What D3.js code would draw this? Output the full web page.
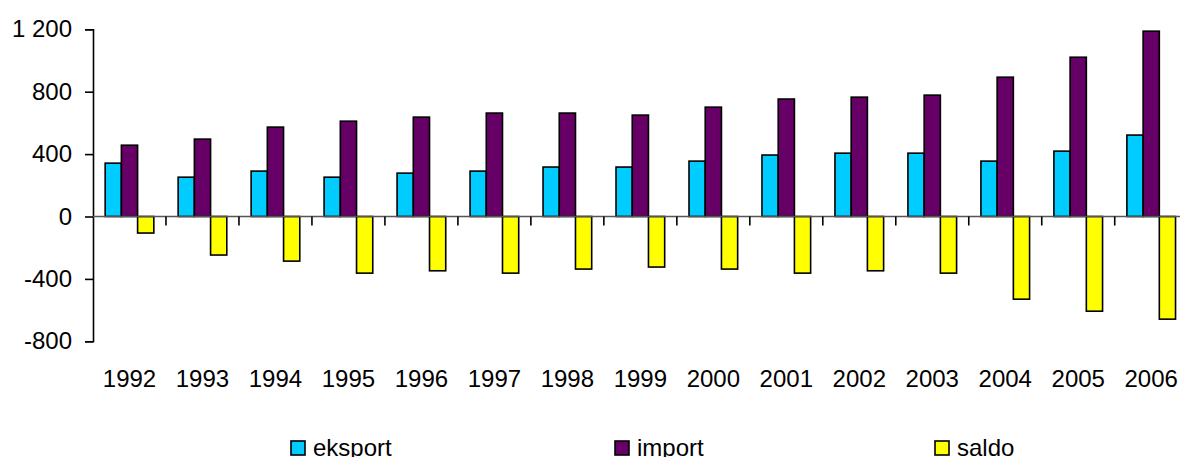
<!DOCTYPE html>
<html>
<head>
<meta charset="utf-8">
<script src="https://cdn.jsdelivr.net/npm/d3@7"></script>
<style>
	body { margin: 0; background: #fff; }
	svg { display: block; font-family: 'Liberation Sans', Arial, sans-serif; }
</style>
</head>
<body>
<div id="chart"></div>
<script>
// data
const years = ['1992', '1993', '1994', '1995', '1996', '1997', '1998', '1999', '2000', '2001', '2002', '2003', '2004', '2005', '2006'];
const eksport = [342, 252, 291, 252, 278, 291, 317, 317, 355, 394, 406, 406, 355, 419, 522];
const importValues = [457, 496, 573, 611, 637, 663, 663, 650, 701, 753, 765, 778, 893, 1021, 1188];
const saldo = [-106, -247, -286, -363, -348, -363, -337, -324, -337, -363, -348, -363, -530, -607, -658];
const seriesNames = ['eksport', 'import', 'saldo'];
const seriesColors = ['#00ccff', '#660066', '#ffff00'];
const yTicks = [-800, -400, 0, 400, 800, 1200];

const width = 1180;
const height = 457;
const left = 93;

const svg = d3.select('#chart')
	.append('svg')
	.attr('width', width)
	.attr('height', height);

// the plot runs a little past the right edge of the picture
const x = d3.scaleBand()
	.domain(years)
	.range([left, left + 15 * 72.98])
	.padding(0);

const xSub = d3.scaleBand()
	.domain(seriesNames)
	.range([0, x.bandwidth()])
	.paddingInner(0)
	.paddingOuter(0.75);

const y = d3.scaleLinear()
	.domain([-800, 1200])
	.range([341.3, 29.3]);

const locale = d3.formatLocale({
	decimal: ',',
	thousands: ' ',
	grouping: [3],
	currency: ['', ''],
	minus: '-'
});

// y axis
const yAxis = svg.append('g')
	.attr('transform', `translate(${left},0)`)
	.call(d3.axisLeft(y)
		.tickValues(yTicks)
		.tickSize(8)
		.tickPadding(13)
		.tickFormat(locale.format(',')));
yAxis.select('.domain').attr('stroke', '#000').attr('stroke-width', 1.6);
yAxis.selectAll('.tick line').attr('stroke', '#000').attr('stroke-width', 1.6);
yAxis.selectAll('.tick text')
	.attr('font-size', 24)
	.attr('font-family', "'Liberation Sans', Arial, sans-serif")
	.attr('fill', '#000');

// bars
const rows = years.map((yr, i) => ({
	year: yr,
	values: [eksport[i], importValues[i], saldo[i]]
}));

const groups = svg.append('g')
	.selectAll('g')
	.data(rows)
	.enter()
	.append('g')
	.attr('transform', d => `translate(${x(d.year)},0)`);

groups.selectAll('rect')
	.data(d => d.values.map((v, j) => ({ name: seriesNames[j], value: v, color: seriesColors[j] })))
	.enter()
	.append('rect')
	.attr('x', d => xSub(d.name))
	.attr('width', xSub.bandwidth())
	.attr('y', d => y(Math.max(0, d.value)))
	.attr('height', d => Math.abs(y(d.value) - y(0)))
	.attr('fill', d => d.color)
	.attr('stroke', '#000')
	.attr('stroke-width', 1.6);

// zero line and category ticks
svg.append('line')
	.attr('x1', left)
	.attr('x2', x.range()[1])
	.attr('y1', y(0))
	.attr('y2', y(0))
	.attr('stroke', '#555')
	.attr('stroke-width', 1.5);

svg.append('g')
	.selectAll('line')
	.data(years.slice(1))
	.enter()
	.append('line')
	.attr('x1', d => x(d))
	.attr('x2', d => x(d))
	.attr('y1', y(0))
	.attr('y2', y(0) + 9)
	.attr('stroke', '#000')
	.attr('stroke-width', 1.6);

// year labels
svg.append('g')
	.selectAll('text')
	.data(years)
	.enter()
	.append('text')
	.attr('x', d => x(d) + x.bandwidth() / 2)
	.attr('y', 386.5)
	.attr('text-anchor', 'middle')
	.attr('font-size', 24)
	.attr('fill', '#000')
	.text(d => d);

// legend (cut by the bottom edge, as in the original)
const legendX = [291, 615, 935];
const legend = svg.append('g')
	.selectAll('g')
	.data(seriesNames)
	.enter()
	.append('g')
	.attr('transform', (d, i) => `translate(${legendX[i]},441)`);

legend.append('rect')
	.attr('width', 14)
	.attr('height', 14)
	.attr('fill', (d, i) => seriesColors[i])
	.attr('stroke', '#000')
	.attr('stroke-width', 1.6);

legend.append('text')
	.attr('x', 22)
	.attr('y', 14.5)
	.attr('font-size', 24)
	.attr('fill', '#000')
	.text(d => d);
</script>
</body>
</html>
